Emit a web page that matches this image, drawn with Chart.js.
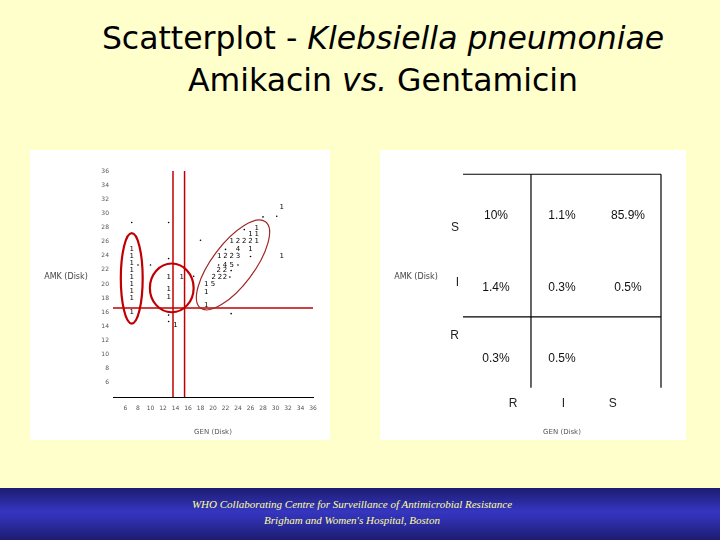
<!DOCTYPE html>
<html><head><meta charset="utf-8">
<script src="https://cdn.jsdelivr.net/npm/chart.js@4"></script>
<style>
body{margin:0;width:720px;height:540px;background:#ffffcc;position:relative;overflow:hidden;font-family:"DejaVu Sans",sans-serif;}
.t{position:absolute;left:0;width:766px;text-align:center;color:#000;font-size:31.5px;}
.panel{position:absolute;background:#fff;}
#foot{position:absolute;left:0;top:488px;width:720px;height:52px;background:linear-gradient(#1c1c70,#3535c0 45%,#3030b0 60%,#1c1c70);}
#foot div{position:absolute;width:704px;text-align:center;color:#ffff99;font-family:"Liberation Serif",serif;font-style:italic;font-size:11px;}
</style></head><body>
<div class="t" style="top:20px;">Scatterplot - <i>Klebsiella pneumoniae</i></div>
<div class="t" style="top:62px;">Amikacin <i>vs.</i> Gentamicin</div>
<div class="panel" style="left:30px;top:150px;width:300px;height:290px;"><canvas id="c1" width="300" height="290"></canvas></div>
<div class="panel" style="left:380px;top:150px;width:306px;height:290px;"><canvas id="c2" width="306" height="290"></canvas></div>
<div id="foot"><div style="top:10px;">WHO Collaborating Centre for Surveillance of Antimicrobial Resistance</div><div style="top:26px;">Brigham and Women's Hospital, Boston</div></div>
<script>
// Left scatter: GEN disk (x) vs AMK disk (y); n = count label, 0 = small dot
const ptX = [7,7,7,7,7,7,7,7,7, 7,8,10,12.9,12.9, 12.9,15,12.9,12.9, 12.9,12.9,14, 16.9,18, 18.9,18.9,18.9,20,
  20.1,21.1,21.9,22.7, 20.9,21.9,22.9, 20.9,21.9,23,24, 21,22,23,24,26, 22,24,26, 23,24,25,26,27, 26,27, 25,27, 31,30.2,28,31,22.9];
const ptY = [25,24,23,22,21,20,19,18,16, 28.7,22.7,22.7,28.7,23.6, 21,21,19.2,18.2, 15.6,14.7,14.1, 21.1,26.2, 20,18.9,17,20,
  21,21,21,21, 21.9,21.9,21.9, 22.7,22.7,22.7,22.7, 23.9,23.9,23.9,23.9,23.9, 24.9,24.9,24.9, 26,26,26,26,26, 27.1,27.1, 27.7,27.9, 30.9,29.6,29.5,23.9,15.8];
const ptN = [1,1,1,1,1,1,1,1,1, 0,0,0,0,0, 1,1,1,1, 0,0,1, 0,0, 1,1,1,5,
  2,2,2,0, 2,2,0, 0,4,5,0, 1,2,2,3,0, 0,4,1, 1,2,2,2,1, 1,1, 0,1, 1,0,0,1,0];
const xTickStep = 2, axMin = 4, axMax = 36;
const genBreaks = [13.6, 15.45];
const amkBreaks = [16.6];
// ellipses: center x, center y, radius x (units), radius y (units)
const ellCx = [7, 13.4], ellCy = [20.8, 19.45], ellRx = [1.75, 3.5], ellRy = [6.4, 3.45];
const ell3 = {cx: 23.2, cy: 22.7};

// Right table
const rLabels = ['R','I','S'];
const xTickPos = [0.76, 1.52, 2.27];
const yTickPos = [0.83, 1.57, 2.33];
const pctX = [0.5,1.5,2.5, 0.5,1.5,2.5, 0.5,1.5];
const pctY = [2.5,2.5,2.5, 1.5,1.5,1.5, 0.5,0.5];
const pctT = ['10%','1.1%','85.9%','1.4%','0.3%','0.5%','0.3%','0.5%'];

const tickFont = {family:'DejaVu Sans', size:6};
const yTitle = {id:'ytitle', afterDraw(c){const o=c.options.plugins.ytitle; const ctx=c.ctx; ctx.save(); ctx.fillStyle='#444'; ctx.font=o.font; ctx.textAlign='center'; ctx.textBaseline='middle'; ctx.fillText(o.text,o.x,o.y); ctx.restore();}};

const leftDraw = {id:'leftDraw', afterDatasetsDraw(c){
  const ctx=c.ctx, xs=c.scales.x, ys=c.scales.y; ctx.save();
  ctx.strokeStyle='#c00000'; ctx.lineWidth=1.5;
  genBreaks.forEach(v=>{ctx.beginPath();ctx.moveTo(xs.getPixelForValue(v),ys.getPixelForValue(axMax));ctx.lineTo(xs.getPixelForValue(v),ys.getPixelForValue(axMin));ctx.stroke();});
  amkBreaks.forEach(v=>{ctx.beginPath();ctx.moveTo(xs.getPixelForValue(axMin),ys.getPixelForValue(v));ctx.lineTo(xs.getPixelForValue(axMax),ys.getPixelForValue(v));ctx.stroke();});
  ctx.lineWidth=2.2;
  ellCx.forEach((cx,i)=>{const px=xs.getPixelForValue(cx),py=ys.getPixelForValue(ellCy[i]);
    const rx=Math.abs(xs.getPixelForValue(cx+ellRx[i])-px), ry=Math.abs(ys.getPixelForValue(ellCy[i]+ellRy[i])-py);
    ctx.beginPath();ctx.ellipse(px,py,rx,ry,0,0,Math.PI*2);ctx.stroke();});
  ctx.lineWidth=1.2; ctx.strokeStyle='#a02828';
  ctx.beginPath();ctx.ellipse(xs.getPixelForValue(ell3.cx),ys.getPixelForValue(ell3.cy),54,21,-53*Math.PI/180,0,Math.PI*2);ctx.stroke();
  ctx.fillStyle='#000'; ctx.font='7px DejaVu Sans'; ctx.textAlign='center'; ctx.textBaseline='middle';
  ptX.forEach((x,i)=>{ if(ptN[i]>0) ctx.fillText(String(ptN[i]), xs.getPixelForValue(x), ys.getPixelForValue(ptY[i])); });
  ctx.restore();
}};

new Chart(document.getElementById('c1'), {
  type:'scatter',
  data:{datasets:[{data:ptX.map((x,i)=>({x,y:ptY[i]})), pointRadius:ptN.map(n=>n===0?0.8:0), backgroundColor:'#000', borderWidth:0}]},
  options:{responsive:false, animation:false, events:[],
    layout:{padding:{top:21,right:17,left:0,bottom:0}},
    plugins:{legend:{display:false}, tooltip:{enabled:false}, ytitle:{text:'AMK (Disk)', x:36, y:127, font:'8px DejaVu Sans'}},
    scales:{
      x:{type:'linear', min:axMin, max:axMax, afterFit:s=>{s.height=43;}, grid:{display:false, drawTicks:false}, border:{color:'#000', width:1},
        ticks:{stepSize:xTickStep, color:'#555', font:tickFont, padding:8, maxRotation:0, autoSkip:false, callback:v=>v===axMin?'':v},
        title:{display:true, text:'GEN (Disk)', color:'#555', font:{family:'DejaVu Sans', size:7}, padding:{top:2}}},
      y:{type:'linear', min:axMin, max:axMax, afterFit:s=>{s.width=83;}, grid:{display:false, drawTicks:false}, border:{display:false},
        ticks:{stepSize:2, color:'#555', font:tickFont, padding:4, autoSkip:false, callback:v=>v===axMin?'':v}}
    }},
  plugins:[leftDraw, yTitle]
});

const rightDraw = {id:'rightDraw', afterDatasetsDraw(c){
  const ctx=c.ctx, xs=c.scales.x, ys=c.scales.y; ctx.save();
  ctx.strokeStyle='#000'; ctx.lineWidth=1.2;
  const L=(x1,y1,x2,y2)=>{ctx.beginPath();ctx.moveTo(xs.getPixelForValue(x1),ys.getPixelForValue(y1));ctx.lineTo(xs.getPixelForValue(x2),ys.getPixelForValue(y2));ctx.stroke();};
  L(0,3.08,3,3.08); L(0,1.09,3,1.09); L(1.03,3.08,1.03,0.1); L(3,3.08,3,0.1);
  ctx.fillStyle='#111'; ctx.font='12px Liberation Sans'; ctx.textAlign='center'; ctx.textBaseline='middle';
  pctT.forEach((t,i)=>ctx.fillText(t, xs.getPixelForValue(pctX[i]), ys.getPixelForValue(pctY[i])));
  ctx.restore();
}};

new Chart(document.getElementById('c2'), {
  type:'scatter',
  data:{datasets:[{data:[]}]},
  options:{responsive:false, animation:false, events:[],
    layout:{padding:{top:30,right:25,left:0,bottom:0}},
    plugins:{legend:{display:false}, tooltip:{enabled:false}, ytitle:{text:'AMK (Disk)', x:36, y:127, font:'8px DejaVu Sans'}},
    scales:{
      x:{type:'linear', min:0, max:3, afterFit:s=>{s.height=45;}, afterBuildTicks:s=>{s.ticks=xTickPos.map(v=>({value:v}));},
        grid:{display:false, drawTicks:false}, border:{display:false},
        ticks:{color:'#222', font:{family:'Liberation Sans', size:12}, padding:1, maxRotation:0, autoSkip:false, callback:(v,i)=>rLabels[i]},
        title:{display:true, text:'GEN (Disk)', color:'#555', font:{family:'DejaVu Sans', size:7}, padding:{top:4}}},
      y:{type:'linear', min:0, max:3, afterFit:s=>{s.width=83;}, afterBuildTicks:s=>{s.ticks=yTickPos.map(v=>({value:v}));},
        grid:{display:false, drawTicks:false}, border:{display:false},
        ticks:{color:'#222', font:{family:'Liberation Sans', size:12}, padding:4, autoSkip:false, callback:(v,i)=>rLabels[i]}}
    }},
  plugins:[rightDraw, yTitle]
});
</script>
</body></html>
